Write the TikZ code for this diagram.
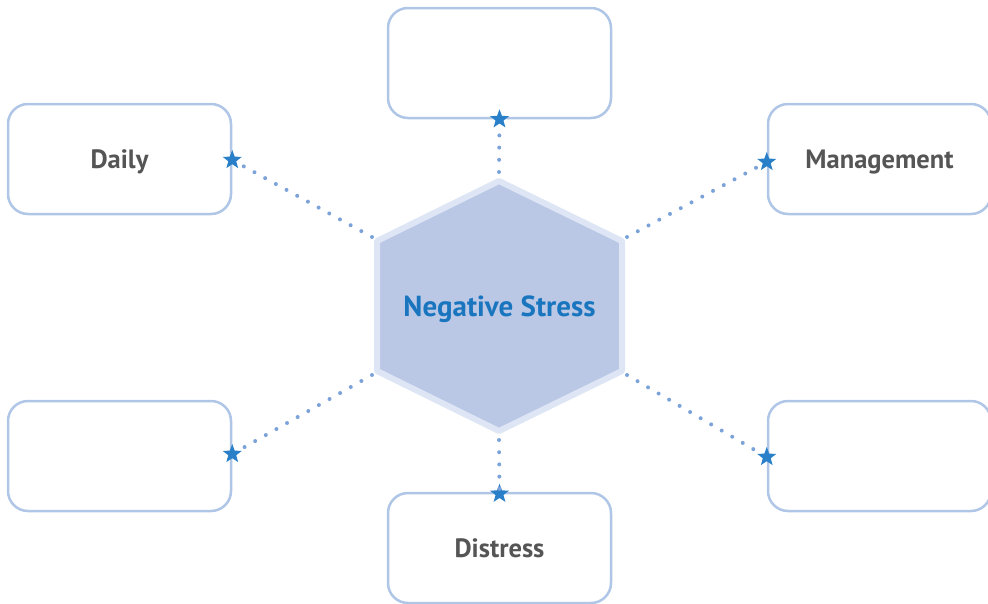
\documentclass[tikz,border=0pt]{standalone}
\usepackage{fontspec}
\setmainfont{PT Sans}
\usetikzlibrary{shapes.geometric}
\definecolor{boxline}{HTML}{AFC6E6}
\definecolor{hexfill}{HTML}{BAC8E6}
\definecolor{hexrim}{HTML}{DEE6F5}
\definecolor{dotcol}{HTML}{7BA3DA}
\definecolor{starcol}{HTML}{2A80C8}
\definecolor{labelgray}{HTML}{555555}
\definecolor{titleblue}{HTML}{1A75BF}
\tikzset{
  topicbox/.style={draw=boxline, line width=2.5pt, rounded corners=20pt, fill=white,
    minimum width=223pt, minimum height=110pt, inner sep=0pt, text depth=0pt,
    font=\fontsize{26.5}{30}\selectfont\bfseries, text=labelgray},
  starmark/.style={star, star points=5, star point ratio=2.4, fill=starcol, draw=none,
    minimum size=20pt, inner sep=0pt},
  dotline/.style={draw=dotcol, line width=4pt, line cap=round, dash pattern=on 0pt off 12.2pt},
}
\begin{document}
\begin{tikzpicture}[x=1pt,y=-1pt]
\useasboundingbox (0,0) rectangle (988,603);
% hexagon vertices
\coordinate (hT) at (499,181);
\coordinate (hUR) at (622,241);
\coordinate (hLR) at (622,371);
\coordinate (hB) at (499,431);
\coordinate (hLL) at (377,371);
\coordinate (hUL) at (377,241);
\draw[hexrim, line width=6pt, fill=hexfill, line join=round] (hT) -- (hUR) -- (hLR) -- (hB) -- (hLL) -- (hUL) -- cycle;
\node[font=\fontsize{29}{33}\selectfont\bfseries, text=titleblue] (center) at (499.5,309) {Negative Stress};
% boxes
\node[topicbox] (top) at (499.5,63) {};
\node[topicbox] (daily) at (119.5,159) {Daily};
\node[topicbox] (mgmt) at (879.5,159) {Management};
\node[topicbox] (bl) at (119.5,456) {};
\node[topicbox] (br) at (879.5,456) {};
\node[topicbox] (dist) at (499.5,548) {Distress};
% stars
\node[starmark] (sT) at (top.south) {};
\node[starmark] (sD) at ([yshift=-1pt]daily.east) {};
\node[starmark] (sM) at ([yshift=-3pt]mgmt.west) {};
\node[starmark] (sBL) at ([yshift=2pt]bl.east) {};
\node[starmark] (sBR) at ([yshift=-1pt]br.west) {};
\node[starmark] (sB) at ([yshift=-2pt]dist.north) {};
% connectors
\draw[dotline, shorten >=4pt] ([yshift=9pt]hT) -- (sT.center);
\draw[dotline, shorten >=4pt] ([xshift=-5pt,yshift=4pt]hUL) -- (sD.center);
\draw[dotline, shorten >=4pt] ([xshift=5pt,yshift=4pt]hUR) -- (sM.center);
\draw[dotline, shorten >=4pt] ([xshift=-5pt,yshift=-4pt]hLL) -- (sBL.center);
\draw[dotline, shorten >=4pt] ([xshift=5pt,yshift=-4pt]hLR) -- (sBR.center);
\draw[dotline, shorten >=4pt] ([yshift=-9pt]hB) -- (sB.center);
\end{tikzpicture}
\end{document}
